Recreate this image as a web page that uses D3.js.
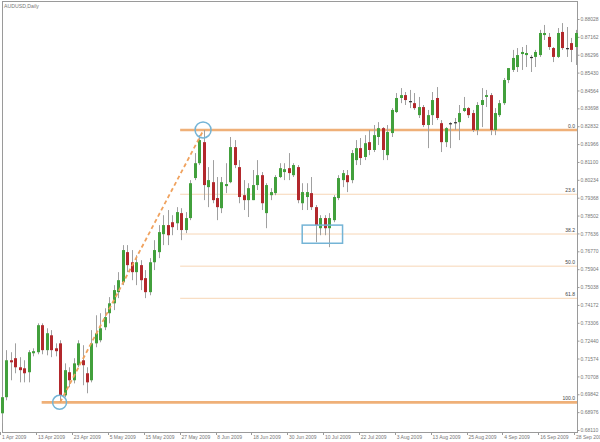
<!DOCTYPE html>
<html><head><meta charset="utf-8">
<script src="https://cdn.jsdelivr.net/npm/d3@7"></script>
<style>html,body{margin:0;padding:0;background:#fff;}svg{display:block;}</style>
</head><body>
<script>
const title = "AUDUSD,Daily";
const startDate = "2009-04-01";
const open = [0.6892,0.6970,0.7149,0.7159,0.7115,0.7110,0.7091,0.7183,0.7188,0.7319,0.7198,0.7270,0.7207,0.7231,0.6979,0.7091,0.7052,0.7125,0.7149,0.7086,0.7052,0.7231,0.7246,0.7309,0.7377,0.7425,0.7479,0.7527,0.7673,0.7624,0.7576,0.7610,0.7547,0.7479,0.7624,0.7673,0.7760,0.7804,0.7818,0.7813,0.7862,0.7780,0.7838,0.8032,0.8104,0.8206,0.7988,0.8012,0.7935,0.7886,0.7993,0.8012,0.8182,0.8085,0.7949,0.7925,0.7925,0.7998,0.8046,0.7862,0.7949,0.7959,0.8037,0.8061,0.8080,0.8046,0.8085,0.7910,0.7940,0.7959,0.7891,0.7789,0.7838,0.7789,0.7828,0.7935,0.8022,0.8046,0.8022,0.8119,0.8177,0.8134,0.8206,0.8168,0.8231,0.8274,0.8143,0.8250,0.8352,0.8420,0.8434,0.8405,0.8395,0.8337,0.8376,0.8289,0.8337,0.8420,0.8298,0.8206,0.8294,0.8303,0.8303,0.8357,0.8371,0.8347,0.8265,0.8386,0.8425,0.8434,0.8265,0.8337,0.8395,0.8507,0.8556,0.8570,0.8633,0.8628,0.8614,0.8619,0.8628,0.8725,0.8716,0.8662,0.8619,0.8740,0.8657,0.8686,0.8667];
const high = [0.6979,0.7198,0.7188,0.7231,0.7164,0.7149,0.7198,0.7207,0.7328,0.7328,0.7304,0.7295,0.7231,0.7246,0.7134,0.7115,0.7159,0.7246,0.7222,0.7115,0.7295,0.7367,0.7377,0.7401,0.7455,0.7513,0.7576,0.7707,0.7707,0.7683,0.7658,0.7634,0.7586,0.7644,0.7731,0.7804,0.7852,0.7877,0.7852,0.7891,0.7886,0.7867,0.8022,0.8153,0.8240,0.8265,0.8085,0.8119,0.8037,0.8037,0.8104,0.8231,0.8216,0.8119,0.8022,0.8007,0.8071,0.8119,0.8061,0.8007,0.7983,0.8046,0.8104,0.8104,0.8153,0.8104,0.8095,0.8007,0.8007,0.8037,0.7901,0.7852,0.7852,0.7862,0.7949,0.8046,0.8071,0.8071,0.8168,0.8216,0.8226,0.8240,0.8265,0.8289,0.8303,0.8279,0.8289,0.8371,0.8444,0.8468,0.8449,0.8459,0.8444,0.8425,0.8386,0.8362,0.8449,0.8473,0.8313,0.8279,0.8303,0.8323,0.8386,0.8425,0.8376,0.8362,0.8400,0.8468,0.8459,0.8444,0.8371,0.8410,0.8517,0.8565,0.8653,0.8662,0.8667,0.8677,0.8628,0.8653,0.8750,0.8774,0.8735,0.8667,0.8759,0.8783,0.8764,0.8711,0.8750];
const low = [0.6843,0.6955,0.7052,0.7086,0.7042,0.7042,0.7042,0.7168,0.7178,0.7178,0.7173,0.7164,0.7168,0.6945,0.6970,0.7018,0.7037,0.7115,0.7028,0.6989,0.7042,0.7212,0.7236,0.7295,0.7328,0.7392,0.7450,0.7513,0.7576,0.7537,0.7513,0.7489,0.7450,0.7464,0.7586,0.7644,0.7707,0.7707,0.7755,0.7780,0.7731,0.7765,0.7828,0.8022,0.8095,0.7925,0.7891,0.7910,0.7828,0.7862,0.7959,0.8007,0.8080,0.7910,0.7877,0.7843,0.7925,0.7974,0.7877,0.7789,0.7925,0.7949,0.8032,0.8022,0.8022,0.8037,0.7910,0.7877,0.7877,0.7877,0.7721,0.7755,0.7755,0.7697,0.7818,0.7925,0.7988,0.7964,0.8007,0.8095,0.8095,0.8119,0.8143,0.8158,0.8192,0.8119,0.8119,0.8231,0.8347,0.8395,0.8386,0.8371,0.8362,0.8323,0.8279,0.8177,0.8289,0.8313,0.8158,0.8182,0.8177,0.8265,0.8216,0.8352,0.8323,0.8255,0.8240,0.8279,0.8376,0.8240,0.8240,0.8328,0.8386,0.8492,0.8546,0.8546,0.8556,0.8570,0.8546,0.8570,0.8619,0.8701,0.8653,0.8594,0.8614,0.8653,0.8619,0.8594,0.8580];
const close = [0.6970,0.7149,0.7139,0.7115,0.7101,0.7086,0.7188,0.7193,0.7319,0.7198,0.7280,0.7198,0.7193,0.6979,0.7101,0.7052,0.7134,0.7231,0.7125,0.7042,0.7231,0.7280,0.7304,0.7358,0.7425,0.7489,0.7537,0.7683,0.7610,0.7576,0.7624,0.7537,0.7479,0.7624,0.7683,0.7770,0.7804,0.7755,0.7794,0.7867,0.7780,0.7838,0.8007,0.8104,0.8216,0.7998,0.8022,0.7925,0.7891,0.8012,0.8003,0.8182,0.8095,0.7940,0.7925,0.7983,0.7998,0.8046,0.7910,0.7998,0.7964,0.8037,0.8080,0.8075,0.8056,0.8095,0.7925,0.7964,0.7964,0.7891,0.7804,0.7838,0.7789,0.7838,0.7940,0.8032,0.8056,0.8012,0.8153,0.8177,0.8129,0.8201,0.8168,0.8240,0.8274,0.8168,0.8255,0.8362,0.8420,0.8434,0.8410,0.8400,0.8371,0.8376,0.8289,0.8337,0.8410,0.8323,0.8206,0.8274,0.8298,0.8301,0.8347,0.8371,0.8337,0.8265,0.8386,0.8410,0.8434,0.8265,0.8347,0.8395,0.8507,0.8565,0.8614,0.8628,0.8643,0.8638,0.8619,0.8643,0.8735,0.8735,0.8667,0.8619,0.8735,0.8662,0.8662,0.8653,0.8735];
const priceTicks = [0.68110,0.68976,0.69842,0.70708,0.71574,0.72440,0.73306,0.74172,0.75038,0.75904,0.76770,0.77636,0.78502,0.79368,0.80234,0.81100,0.81966,0.82832,0.83698,0.84564,0.85430,0.86296,0.87162,0.88028];
const dateTickLabels = ["1 Apr 2009","13 Apr 2009","23 Apr 2009","5 May 2009","15 May 2009","27 May 2009","8 Jun 2009","18 Jun 2009","30 Jun 2009","10 Jul 2009","22 Jul 2009","3 Aug 2009","13 Aug 2009","25 Aug 2009","4 Sep 2009","16 Sep 2009","28 Sep 2009"];
const fibLevels = [0, 23.6, 38.2, 50.0, 61.8, 100.0];
const fibHigh = 0.8265, fibLow = 0.6945;
const swingLowIdx = 13, swingHighIdx = 45;
const boxIdx = [67, 76], boxPrice = [0.7804, 0.7716];

// trading days (weekdays) from start
const fmt = d3.timeFormat("%-d %b %Y");
const dates = [];
{ let d = new Date(startDate + "T00:00:00"); while (dates.length < open.length) { const wd = d.getDay(); if (wd !== 0 && wd !== 6) dates.push(new Date(d)); d.setDate(d.getDate() + 1); } }
const bars = open.map((o, i) => ({i, date: dates[i], o, h: high[i], l: low[i], c: close[i]}));

const W = 600, H = 442;
const plot = {left: 2, top: 1, right: 577, bottom: 432};
const svg = d3.select("body").append("svg").attr("width", W).attr("height", H)
  .style("font-family", "'Liberation Sans', Arial, sans-serif");

const x = d3.scalePoint().domain(bars.map(b => b.i)).range([1.8, 575.7]);
const y = d3.scaleLinear().domain([priceTicks[0], priceTicks[priceTicks.length-1]]).range([430, 19]);

// frame
svg.append("rect").attr("x", plot.left + 0.5).attr("y", plot.top + 0.5)
  .attr("width", plot.right - plot.left).attr("height", plot.bottom - plot.top)
  .attr("fill", "none").attr("stroke", "#9a9a9a").attr("stroke-width", 1);

// title
svg.append("text").attr("x", 4).attr("y", 8).attr("font-size", 5.2).attr("fill", "#777").text(title);

// right price axis
const yAxis = d3.axisRight(y).tickValues(priceTicks).tickSize(2).tickFormat(d3.format(".5f"));
const ya = svg.append("g").attr("transform", `translate(${plot.right + 0.5},0)`).call(yAxis);
ya.select(".domain").remove();
ya.selectAll("line").attr("stroke", "#9a9a9a");
ya.selectAll("text").attr("font-size", 5).attr("fill", "#777").attr("x", 3);

// bottom date axis
const tickIdx = bars.filter(b => dateTickLabels.includes(fmt(b.date)));
const xa = svg.append("g");
xa.selectAll("line").data(tickIdx).join("line")
  .attr("x1", d => Math.round(x(d.i) - 1.5) + 0.5).attr("x2", d => Math.round(x(d.i) - 1.5) + 0.5)
  .attr("y1", plot.bottom).attr("y2", plot.bottom + 3).attr("stroke", "#9a9a9a");
xa.selectAll("text").data(tickIdx).join("text")
  .attr("x", d => x(d.i) + 0.3).attr("y", 438.5).attr("font-size", 5).attr("fill", "#777")
  .text(d => fmt(d.date));

const g = svg.append("g");
const fibPrice = lv => fibHigh - (fibHigh - fibLow) * lv / 100;

// fib lines
fibLevels.forEach(lv => {
  const major = (lv === 0 || lv === 100);
  const x0 = lv === 100 ? x(9) - 0.5 : x(40) - 1;
  g.append("line").attr("x1", x0).attr("x2", plot.right)
    .attr("y1", y(fibPrice(lv))).attr("y2", y(fibPrice(lv)))
    .attr("stroke", major ? "#efb078" : "#f7d6b6").attr("stroke-width", major ? 2.6 : 1);
});

// candles
const cg = g.append("g");
bars.forEach(b => {
  const cx = Math.round(x(b.i)) + 0.5;
  cg.append("line").attr("x1", cx).attr("x2", cx).attr("y1", y(b.h)).attr("y2", y(b.l))
    .attr("stroke", "#a0a0a0").attr("stroke-width", 1);
  const top = y(Math.max(b.o, b.c)), bot = y(Math.min(b.o, b.c));
  const up = b.c >= b.o;
  const small = bot - top < 1.6;
  cg.append("rect").attr("x", cx - 1.5).attr("width", 3)
    .attr("y", top).attr("height", Math.max(1.2, bot - top))
    .attr("fill", small ? "#333" : (up ? "#42a03c" : "#b2282c"));
});

// fib labels
fibLevels.forEach(lv => {
  g.append("text").attr("x", 575).attr("y", y(fibPrice(lv)) - 2.3)
    .attr("text-anchor", "end").attr("font-size", 5).attr("fill", "#444")
    .text(lv.toFixed(1));
});

// dashed trend line
g.append("line")
  .attr("x1", x(swingLowIdx)).attr("y1", y(fibLow))
  .attr("x2", x(swingHighIdx)).attr("y2", y(fibHigh))
  .attr("stroke", "#f0a25e").attr("stroke-width", 1.8).attr("stroke-dasharray", "4,3");

// circles
[[swingLowIdx, fibLow, 7], [swingHighIdx, fibHigh, 8]].forEach(([i, p, r]) => {
  g.append("circle").attr("cx", x(i) - 0.5).attr("cy", y(p)).attr("r", r)
    .attr("fill", "none").attr("stroke", "#74b4d6").attr("stroke-width", 1.5);
});

// box
g.append("rect").attr("x", x(boxIdx[0])).attr("y", y(boxPrice[0]))
  .attr("width", x(boxIdx[1]) - x(boxIdx[0])).attr("height", y(boxPrice[1]) - y(boxPrice[0]))
  .attr("fill", "none").attr("stroke", "#74b4d6").attr("stroke-width", 1.5);
</script>
</body></html>
